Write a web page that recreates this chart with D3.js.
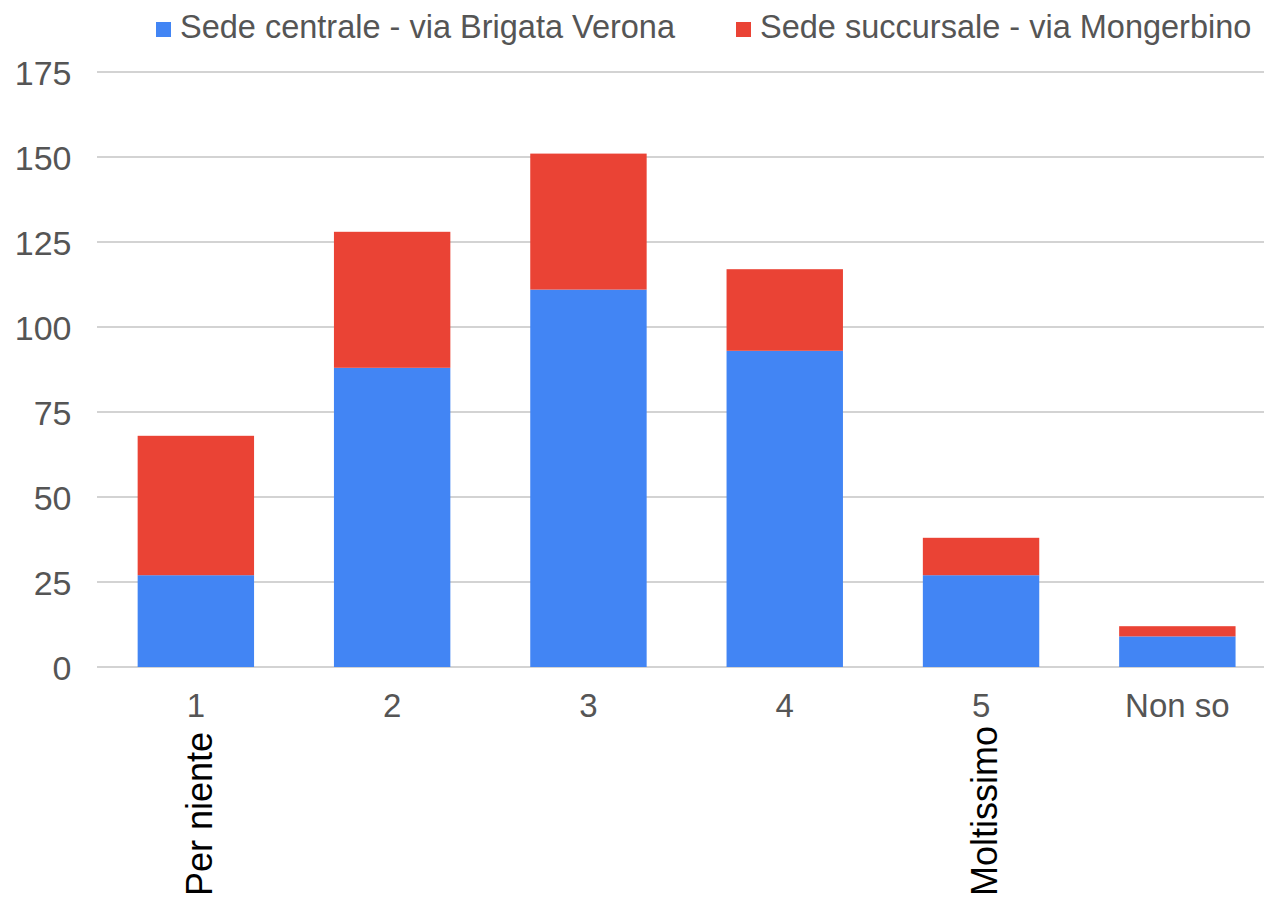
<!DOCTYPE html>
<html>
<head>
<meta charset="utf-8">
<script src="https://cdn.jsdelivr.net/npm/d3@7"></script>
<style>
  html, body { margin: 0; padding: 0; background: #fff; }
  svg { display: block; }
</style>
</head>
<body>
<svg id="chart" width="1264" height="897"></svg>
<script>
const categories = ["1", "2", "3", "4", "5", "Non so"];
const sedeCentrale = [27, 88, 111, 93, 27, 9];
const sedeSuccursale = [41, 40, 40, 24, 11, 3];
const seriesNames = ["Sede centrale - via Brigata Verona", "Sede succursale - via Mongerbino"];
const seriesColors = ["#4285f4", "#ea4335"];
const yTicks = [0, 25, 50, 75, 100, 125, 150, 175];
const extraLabels = { "1": "Per niente", "5": "Moltissimo" };

const W = 1264, H = 897;
const svg = d3.select("#chart");
const FONT = "'Liberation Sans', Arial, sans-serif";

const x = d3.scaleBand()
  .domain(categories)
  .range([97.7, 1275.5])
  .paddingInner(0.407)
  .paddingOuter(0.2035);

const y = d3.scaleLinear().domain([0, 175]).range([667, 72]);

// gridlines
svg.append("g").selectAll("line")
  .data(yTicks)
  .join("line")
  .attr("x1", 97)
  .attr("x2", W)
  .attr("y1", d => y(d))
  .attr("y2", d => y(d))
  .attr("stroke", "#d3d3d3")
  .attr("stroke-width", 2);

// y axis labels
const yAxis = d3.axisLeft(y).tickValues(yTicks).tickSize(0).tickPadding(0);
const gy = svg.append("g").attr("transform", "translate(71.5,0)").call(yAxis);
gy.select(".domain").remove();
gy.selectAll("text")
  .attr("font-family", FONT)
  .attr("font-size", 34)
  .attr("fill", "#555")
  .attr("dy", "0.36em");

// stacked data
const rows = categories.map((c, i) => ({ cat: c, s0: sedeCentrale[i], s1: sedeSuccursale[i] }));
const stack = d3.stack().keys(["s0", "s1"]);
const stacked = stack(rows);

svg.append("g").selectAll("g")
  .data(stacked)
  .join("g")
  .attr("fill", (d, i) => seriesColors[i])
  .selectAll("rect")
  .data(d => d)
  .join("rect")
  .attr("x", d => x(d.data.cat))
  .attr("width", x.bandwidth())
  .attr("y", d => y(d[1]))
  .attr("height", d => y(d[0]) - y(d[1]));

// x axis labels
const xAxis = d3.axisBottom(x).tickSize(0).tickPadding(0);
const gx = svg.append("g").attr("transform", "translate(0,717)").call(xAxis);
gx.select(".domain").remove();
gx.selectAll("text")
  .attr("font-family", FONT)
  .attr("font-size", 33)
  .attr("fill", "#555")
  .attr("dy", 0)
  .attr("y", 0);

// rotated extra labels
svg.append("g").selectAll("text")
  .data(categories.filter(c => extraLabels[c]))
  .join("text")
  .attr("transform", d => `translate(${x(d) + x.bandwidth() / 2 + 16},896) rotate(-90)`)
  .attr("font-family", FONT)
  .attr("font-size", 36)
  .attr("fill", "#000")
  .attr("text-anchor", "start")
  .text(d => extraLabels[d]);

// legend
const legendX = [156, 736];
const lg = svg.append("g").selectAll("g")
  .data(seriesNames)
  .join("g")
  .attr("transform", (d, i) => `translate(${legendX[i]},0)`);
lg.append("rect")
  .attr("x", 0).attr("y", 22).attr("width", 15).attr("height", 15)
  .attr("fill", (d, i) => seriesColors[i]);
lg.append("text")
  .attr("x", 24).attr("y", 38)
  .attr("font-family", FONT)
  .attr("font-size", 32.5)
  .attr("fill", "#555")
  .text(d => d);
</script>
</body>
</html>
